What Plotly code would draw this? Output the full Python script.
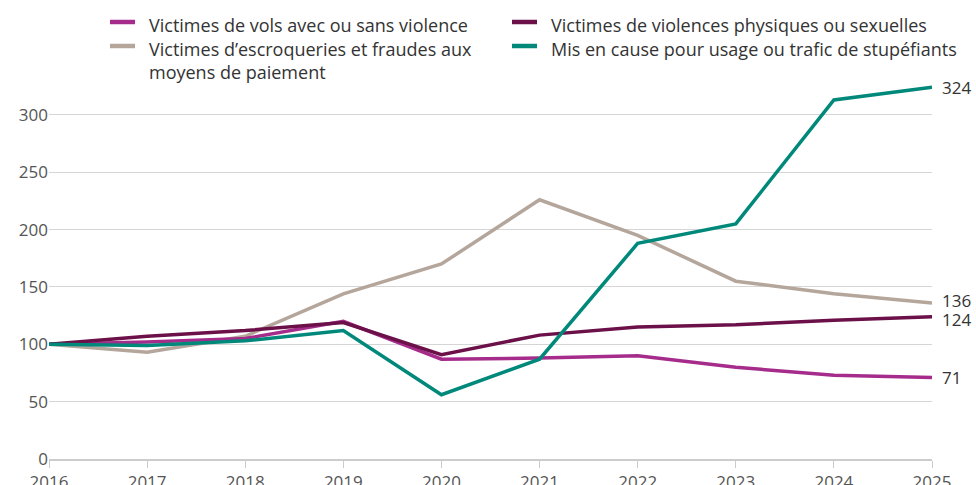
import plotly.graph_objects as go

years = [2016, 2017, 2018, 2019, 2020, 2021, 2022, 2023, 2024, 2025]

vols = [100, 102, 105, 120, 87, 88, 90, 80, 73, 71]
violences = [100, 107, 112, 119, 91, 108, 115, 117, 121, 124]
escroqueries = [100, 93, 107, 144, 170, 226, 195, 155, 144, 136]
stupefiants = [100, 99, 103, 112, 56, 87, 188, 205, 313, 324]

names = {
    "vols": "Victimes de vols avec ou sans violence",
    "violences": "Victimes de violences physiques ou sexuelles",
    "escroqueries": "Victimes d\u2019escroqueries et fraudes aux<br>moyens de paiement",
    "stupefiants": "Mis en cause pour usage ou trafic de stup\u00e9fiants",
}
colors = {
    "vols": "#A62C8C",
    "violences": "#6B1048",
    "escroqueries": "#B5A69C",
    "stupefiants": "#00897B",
}
series = {"vols": vols, "violences": violences, "escroqueries": escroqueries, "stupefiants": stupefiants}
draw_order = ["escroqueries", "vols", "violences", "stupefiants"]
label_shift = {"vols": 0, "violences": -3, "escroqueries": 3, "stupefiants": 0}

# legend layout (pixel positions in the figure): column x, row y
legend_pos = {
    "vols": (108, 22),
    "violences": (510, 22),
    "escroqueries": (108, 46),
    "stupefiants": (510, 46),
}

W, H = 976, 485
ML, MR, MT, MB = 49, 44, 69, 26
PW, PH = W - ML - MR, H - MT - MB


def px_x(px):
    return (px - ML) / PW


def px_y(py):
    return (H - MB - py) / PH


FONT = "Open Sans"
fig = go.Figure()
for key in draw_order:
    fig.add_trace(go.Scatter(
        x=years, y=series[key], mode="lines", name=names[key],
        line=dict(color=colors[key], width=3.5), showlegend=False,
    ))
    fig.add_annotation(
        x=years[-1], y=series[key][-1], text=str(series[key][-1]),
        showarrow=False, xanchor="left", xshift=8, yshift=label_shift[key],
        font=dict(family=FONT, size=17, color="#333333"),
    )

for key, (lx, ly) in legend_pos.items():
    fig.add_shape(
        type="line", xref="paper", yref="paper",
        x0=px_x(lx + 2), x1=px_x(lx + 27), y0=px_y(ly), y1=px_y(ly),
        line=dict(color=colors[key], width=4.5),
    )
    fig.add_annotation(
        xref="paper", yref="paper", x=px_x(lx + 39), y=px_y(ly - 11),
        text=names[key], showarrow=False, xanchor="left", yanchor="top",
        align="left", font=dict(family=FONT, size=18, color="#333333"),
    )

fig.update_layout(
    width=W, height=H,
    margin=dict(l=ML, r=MR, t=MT, b=MB, autoexpand=False),
    plot_bgcolor="white", paper_bgcolor="white",
    font=dict(family=FONT, size=17, color="#555555"),
    showlegend=False,
    xaxis=dict(
        range=[2016, 2025], tickvals=years, ticktext=[str(y) for y in years],
        showgrid=False, showline=True, linecolor="#CCCCCC", linewidth=1.5,
        ticks="outside", ticklen=7, tickcolor="#CCCCCC", zeroline=False,
        tickfont=dict(size=17, color="#555555"),
    ),
    yaxis=dict(
        range=[0, 340], tickvals=[0, 50, 100, 150, 200, 250, 300],
        showgrid=True, gridcolor="#D5D5D5", gridwidth=1, zeroline=False,
        ticks="", tickfont=dict(size=17, color="#555555"),
    ),
)

fig.write_html(
    "out.html",
    config={"displayModeBar": False},
    post_script="document.body.style.margin='0px';document.body.style.overflow='hidden';",
)
